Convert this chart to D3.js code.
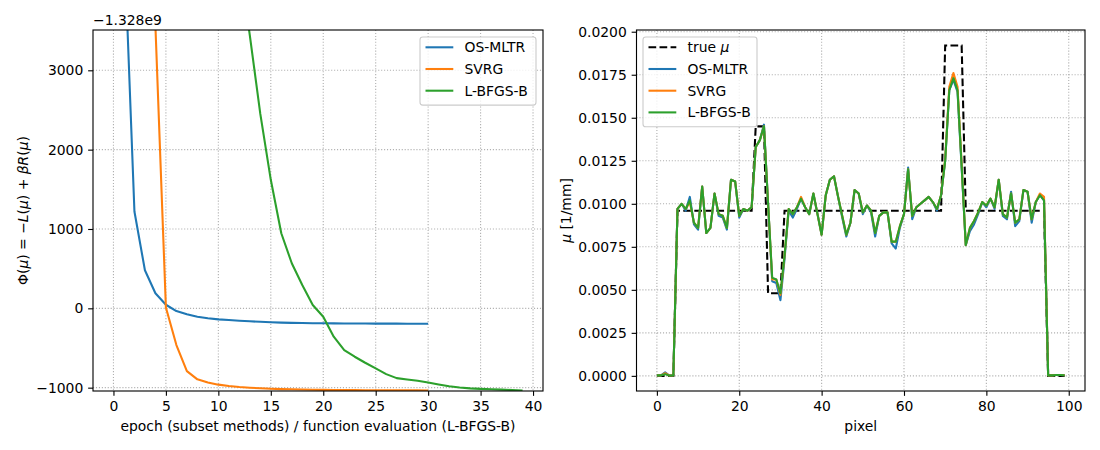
<!DOCTYPE html>
<html lang="en">
<head>
<meta charset="UTF-8">
<title>Objective and reconstruction profiles</title>
<script src="https://d3js.org/d3.v7.min.js"></script>
<style>
  body { margin: 0; background: #fff; }
  text { font-family: "DejaVu Sans", sans-serif; font-size: 13.9px; fill: #000; }
</style>
</head>
<body>
<script>
// ---------- data (left panel values are relative to the offset -1.328e9) ----------
const objOffsetLabel = "\u22121.328e9";
const osmltrObj = [40000, 4700, 1220, 480, 190, 45, -35, -76, -106, -124, -139, -148, -156, -163, -170,
  -176, -180, -183, -186, -188, -189, -190, -191, -192, -192, -193, -193, -193, -194, -194, -194];
const svrgObj = [60000, 30000, 15000, 8000, 3560, 10, -463, -791, -895, -935, -962, -980, -992, -1000, -1008,
  -1014, -1018, -1021, -1024, -1026, -1028, -1029, -1030, -1031, -1032, -1032, -1033, -1033, -1034, -1034, -1035];
const lbfgsObj = [200000, 120000, 80000, 50000, 35000, 25000, 18000, 13000, 10000, 8000, 6500, 5300, 4400,
  3440, 2450, 1620, 946, 568, 294, 42, -106, -358, -526, -610, -686, -757, -829, -880, -896, -913, -934,
  -959, -982, -997, -1009, -1015, -1020, -1025, -1030, -1035];

const trueMu = [0, 0, 0, 0, 0, 0.0096, 0.0096, 0.0096, 0.0096, 0.0096, 0.0096, 0.0096, 0.0096, 0.0096, 0.0096,
  0.0096, 0.0096, 0.0096, 0.0096, 0.0096, 0.0096, 0.0096, 0.0096, 0.0096, 0.0145, 0.0145, 0.0145, 0.0048, 0.0048,
  0.0048, 0.0048, 0.0096, 0.0096, 0.0096, 0.0096, 0.0096, 0.0096, 0.0096, 0.0096, 0.0096, 0.0096, 0.0096, 0.0096,
  0.0096, 0.0096, 0.0096, 0.0096, 0.0096, 0.0096, 0.0096, 0.0096, 0.0096, 0.0096, 0.0096, 0.0096, 0.0096, 0.0096,
  0.0096, 0.0096, 0.0096, 0.0096, 0.0096, 0.0096, 0.0096, 0.0096, 0.0096, 0.0096, 0.0096, 0.0096, 0.0096, 0.0192,
  0.0192, 0.0192, 0.0192, 0.0192, 0.0096, 0.0096, 0.0096, 0.0096, 0.0096, 0.0096, 0.0096, 0.0096, 0.0096, 0.0096,
  0.0096, 0.0096, 0.0096, 0.0096, 0.0096, 0.0096, 0.0096, 0.0096, 0.0096, 0.0096, 0, 0, 0, 0, 0];
const osmltrMu = [0.00003, 0.00003, 0.0002, 0.00002, 0.00003, 0.0097, 0.0100, 0.0096, 0.0104, 0.0088, 0.0085,
  0.0110, 0.0083, 0.0086, 0.0106, 0.0093, 0.0092, 0.0085, 0.0114, 0.0113, 0.0092, 0.0097, 0.0096, 0.0098, 0.0133,
  0.0137, 0.0146, 0.0100, 0.0055, 0.0054, 0.0044, 0.0068, 0.0096, 0.0092, 0.0097, 0.0103, 0.0098, 0.0094, 0.0106,
  0.0094, 0.0082, 0.0105, 0.0114, 0.0116, 0.0104, 0.0092, 0.0081, 0.0089, 0.0108, 0.0106, 0.0094, 0.0099, 0.0095,
  0.0081, 0.0093, 0.0095, 0.0095, 0.0077, 0.0074, 0.0086, 0.0094, 0.0121, 0.0091, 0.0098, 0.0100, 0.0102, 0.0104,
  0.0101, 0.0096, 0.0105, 0.0125, 0.0166, 0.0172, 0.0165, 0.0121, 0.0076, 0.0084, 0.0088, 0.0094, 0.0101, 0.0098,
  0.0103, 0.0097, 0.0114, 0.0093, 0.0091, 0.0107, 0.0087, 0.0090, 0.0108, 0.0107, 0.0089, 0.0101, 0.0105, 0.0102,
  0.00003, 0.00003, 0.00005, 0.00005, 0.00004];
const svrgMu = [0.00003, 0.00003, 0.00015, 0.00002, 0.00003, 0.0097, 0.0100, 0.0097, 0.0101, 0.0089, 0.0086,
  0.0110, 0.0083, 0.0086, 0.0106, 0.0094, 0.0093, 0.0086, 0.0114, 0.0113, 0.0093, 0.0097, 0.0096, 0.0098, 0.0133,
  0.0137, 0.0145, 0.0100, 0.0056, 0.0056, 0.0047, 0.0070, 0.0097, 0.0094, 0.0098, 0.0104, 0.0098, 0.0094, 0.0106,
  0.0094, 0.0082, 0.0105, 0.0114, 0.0116, 0.0104, 0.0093, 0.0082, 0.0089, 0.0108, 0.0106, 0.0095, 0.0099, 0.0096,
  0.0083, 0.0093, 0.0095, 0.0095, 0.0078, 0.0078, 0.0087, 0.0094, 0.0120, 0.0093, 0.0098, 0.0100, 0.0102, 0.0104,
  0.0101, 0.0097, 0.0105, 0.0126, 0.0168, 0.0176, 0.0168, 0.0123, 0.0076, 0.0086, 0.0090, 0.0095, 0.0101, 0.0099,
  0.0103, 0.0098, 0.0114, 0.0094, 0.0092, 0.0106, 0.0089, 0.0091, 0.0108, 0.0107, 0.0091, 0.0101, 0.0106, 0.0104,
  0.00003, 0.00003, 0.00005, 0.00005, 0.00004];
const lbfgsMu = [0.00003, 0.00003, 0.0001, 0.00002, 0.00003, 0.0097, 0.0100, 0.0097, 0.0102, 0.0089, 0.0086,
  0.0110, 0.0083, 0.0086, 0.0106, 0.0094, 0.0093, 0.0086, 0.0114, 0.0113, 0.0093, 0.0097, 0.0096, 0.0098, 0.0133,
  0.0137, 0.0145, 0.0100, 0.0057, 0.0056, 0.0048, 0.0070, 0.0097, 0.0094, 0.0098, 0.0103, 0.0098, 0.0094, 0.0106,
  0.0094, 0.0082, 0.0105, 0.0114, 0.0116, 0.0104, 0.0093, 0.0082, 0.0089, 0.0108, 0.0106, 0.0095, 0.0099, 0.0096,
  0.0083, 0.0093, 0.0095, 0.0095, 0.0078, 0.0078, 0.0087, 0.0094, 0.0120, 0.0093, 0.0098, 0.0100, 0.0102, 0.0104,
  0.0101, 0.0097, 0.0105, 0.0125, 0.0166, 0.0173, 0.0166, 0.0122, 0.0076, 0.0086, 0.0090, 0.0095, 0.0101, 0.0099,
  0.0103, 0.0098, 0.0114, 0.0094, 0.0092, 0.0106, 0.0089, 0.0091, 0.0108, 0.0107, 0.0091, 0.0101, 0.0105, 0.0102,
  0.00003, 0.00003, 0.00005, 0.00005, 0.00004];

const leftXTicks = [0, 5, 10, 15, 20, 25, 30, 35, 40];
const leftYTicks = [-1000, 0, 1000, 2000, 3000];
const rightXTicks = [0, 20, 40, 60, 80, 100];
const rightYTicks = [0, 0.0025, 0.005, 0.0075, 0.01, 0.0125, 0.015, 0.0175, 0.02];

const seriesNames = ["OS-MLTR", "SVRG", "L-BFGS-B"];
const colors = ["#1f77b4", "#ff7f0e", "#2ca02c"];

// ---------- layout (sizes in px at 100 dpi: 1pt = 1.389px) ----------
const svg = d3.select("body").append("svg")
  .attr("width", 1100).attr("height", 450);

const plotTop = 30, plotBottom = 391;
const L = { x0: 93, x1: 543 };
const R = { x0: 636.5, x1: 1085 };
const tickLen = 4.86, tickPad = 4.86;
const lineW = 2.08, spineW = 1.11;
const dashPattern = "7.7,3.33";
const gridDash = "1.11,1.83";

const xL = d3.scaleLinear().domain([-1.95, 40.95]).range([L.x0, L.x1]);
const yL = d3.scaleLinear().domain([-1042, 3508]).range([plotBottom, plotTop]);
const xR = d3.scaleLinear().domain([-4.95, 103.95]).range([R.x0, R.x1]);
const yR = d3.scaleLinear().domain([-0.00088, 0.0201]).range([plotBottom, plotTop]);

const minus = s => s.replace(/-/g, "\u2212");

function panel(id, box, x, y, xt, yt, yFmt) {
  const g = svg.append("g");
  svg.append("clipPath").attr("id", id)
    .append("rect").attr("x", box.x0).attr("y", plotTop)
    .attr("width", box.x1 - box.x0).attr("height", plotBottom - plotTop);
  // dotted grid
  g.selectAll(".gx").data(xt).enter().append("line")
    .attr("x1", d => x(d)).attr("x2", d => x(d))
    .attr("y1", plotTop).attr("y2", plotBottom)
    .attr("stroke", "#b0b0b0").attr("stroke-width", spineW)
    .attr("stroke-dasharray", gridDash);
  g.selectAll(".gy").data(yt).enter().append("line")
    .attr("x1", box.x0).attr("x2", box.x1)
    .attr("y1", d => y(d)).attr("y2", d => y(d))
    .attr("stroke", "#b0b0b0").attr("stroke-width", spineW)
    .attr("stroke-dasharray", gridDash);
  // axes
  const ax = g.append("g").attr("transform", `translate(0,${plotBottom})`)
    .call(d3.axisBottom(x).tickValues(xt).tickSize(tickLen).tickPadding(tickPad)
      .tickFormat(d => minus(String(d))));
  const ay = g.append("g").attr("transform", `translate(${box.x0},0)`)
    .call(d3.axisLeft(y).tickValues(yt).tickSize(tickLen).tickPadding(tickPad)
      .tickFormat(yFmt));
  [ax, ay].forEach(a => {
    a.select(".domain").remove();
    a.selectAll("line").attr("stroke", "#000").attr("stroke-width", spineW);
    a.attr("font-size", null).attr("font-family", null);
  });
  const plot = g.append("g").attr("clip-path", `url(#${id})`);
  return { g, plot };
}

function frame(box) {
  svg.append("rect").attr("x", box.x0).attr("y", plotTop)
    .attr("width", box.x1 - box.x0).attr("height", plotBottom - plotTop)
    .attr("fill", "none").attr("stroke", "#000").attr("stroke-width", spineW);
}

function legend(x0, y0, w, rows) {
  const rowH = 21.7;
  const h = rows.length * rowH + 3;
  const lg = svg.append("g");
  lg.append("rect").attr("x", x0).attr("y", y0).attr("width", w).attr("height", h)
    .attr("rx", 2.8).attr("fill", "#fff").attr("fill-opacity", 0.8)
    .attr("stroke", "#cccccc").attr("stroke-width", spineW);
  rows.forEach((r, i) => {
    const cy = y0 + 10.3 + i * rowH;
    lg.append("line").attr("x1", x0 + 5.5).attr("x2", x0 + 33.3)
      .attr("y1", cy).attr("y2", cy)
      .attr("stroke", r.color).attr("stroke-width", lineW)
      .attr("stroke-dasharray", r.dash || null);
    const t = lg.append("text").attr("x", x0 + 44.5).attr("y", cy).attr("dy", "0.36em");
    r.label(t);
  });
}

// ---------- left panel ----------
const left = panel("clipL", L, xL, yL, leftXTicks, leftYTicks, d => minus(String(d)));
const lineL = d3.line().x((d, i) => xL(i)).y(d => yL(d));
[osmltrObj, svrgObj, lbfgsObj].forEach((s, k) => {
  left.plot.append("path").datum(s).attr("d", lineL)
    .attr("fill", "none").attr("stroke", colors[k]).attr("stroke-width", lineW)
    .attr("stroke-linejoin", "round");
});
frame(L);
svg.append("text").attr("x", L.x0).attr("y", 25).text(objOffsetLabel);

svg.append("text").attr("x", (L.x0 + L.x1) / 2).attr("y", 431).attr("text-anchor", "middle")
  .text("epoch (subset methods) / function evaluation (L-BFGS-B)");

const yl = svg.append("text").attr("transform", "translate(27.5,210.5) rotate(-90)")
  .attr("text-anchor", "middle");
yl.append("tspan").text("\u03a6(");
yl.append("tspan").attr("font-style", "italic").text("\u03bc");
yl.append("tspan").text(") = \u2212");
yl.append("tspan").attr("font-style", "italic").text("L");
yl.append("tspan").text("(");
yl.append("tspan").attr("font-style", "italic").text("\u03bc");
yl.append("tspan").text(") + ");
yl.append("tspan").attr("font-style", "italic").text("\u03b2R");
yl.append("tspan").text("(");
yl.append("tspan").attr("font-style", "italic").text("\u03bc");
yl.append("tspan").text(")");

legend(420, 37, 116, seriesNames.map((n, k) => ({ color: colors[k], label: t => t.text(n) })));

// ---------- right panel ----------
const right = panel("clipR", R, xR, yR, rightXTicks, rightYTicks, d3.format(".4f"));
const lineR = d3.line().x((d, i) => xR(i)).y(d => yR(d));
right.plot.append("path").datum(trueMu).attr("d", lineR)
  .attr("fill", "none").attr("stroke", "#000").attr("stroke-width", lineW)
  .attr("stroke-dasharray", dashPattern);
[osmltrMu, svrgMu, lbfgsMu].forEach((s, k) => {
  right.plot.append("path").datum(s).attr("d", lineR)
    .attr("fill", "none").attr("stroke", colors[k]).attr("stroke-width", lineW)
    .attr("stroke-linejoin", "round");
});
frame(R);

svg.append("text").attr("x", (R.x0 + R.x1) / 2).attr("y", 431).attr("text-anchor", "middle").text("pixel");
const yr = svg.append("text").attr("transform", "translate(570.5,210.5) rotate(-90)")
  .attr("text-anchor", "middle");
yr.append("tspan").attr("font-style", "italic").text("\u03bc");
yr.append("tspan").text(" [1/mm]");

legend(643, 37, 114, [
  { color: "#000", dash: dashPattern, label: t => { t.append("tspan").text("true "); t.append("tspan").attr("font-style", "italic").text("\u03bc"); } },
  ...seriesNames.map((n, k) => ({ color: colors[k], label: t => t.text(n) }))
]);
</script>
</body>
</html>
